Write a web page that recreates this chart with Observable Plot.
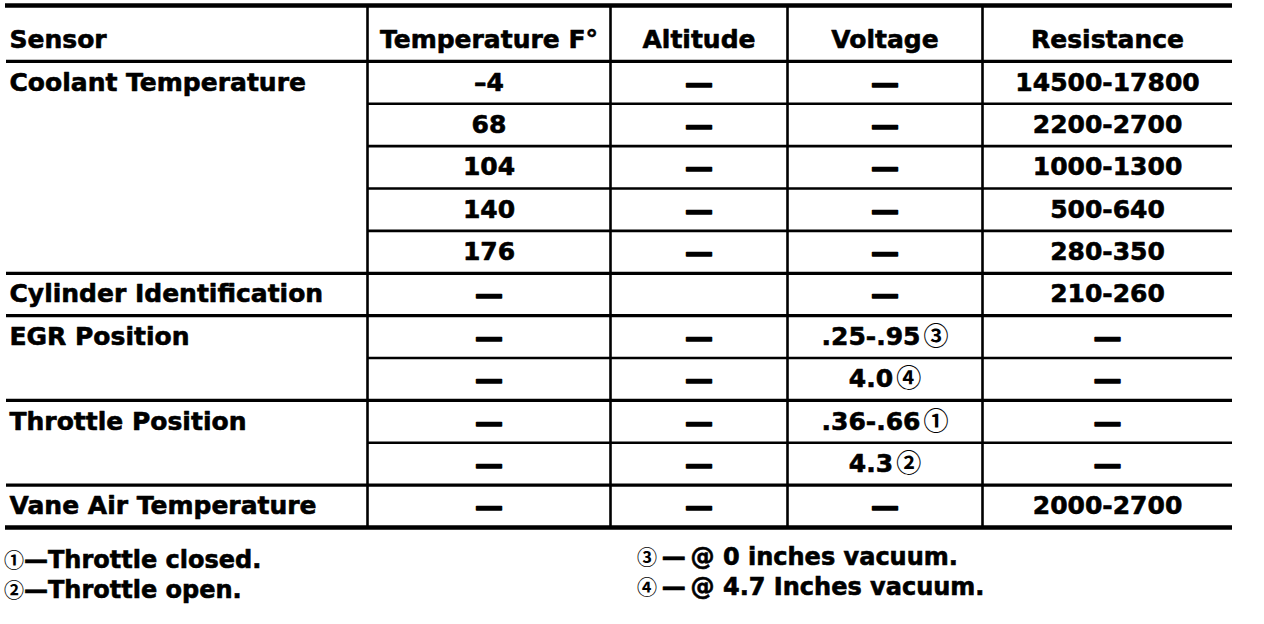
<!DOCTYPE html>
<html>
<head>
<meta charset="utf-8">
<script src="https://cdn.jsdelivr.net/npm/d3@7"></script>
<script src="https://cdn.jsdelivr.net/npm/@observablehq/plot@0.6"></script>
<style>
  body { margin: 0; background: #fff; }
  #notes { display: flex; font-family: "DejaVu Sans", sans-serif; font-weight: bold; font-size: 24px;
           line-height: 30px; color: #000; -webkit-text-stroke: 0.6px #000; margin-top: 5px; }
  #notes .left { width: 633px; padding-left: 4px; }
  #notes .right { margin-top: -3px; }
  #notes > div > div { height: 30px; }
  .circ { font-family: "Noto Sans CJK JP", sans-serif; font-weight: bold; -webkit-text-stroke: 0; font-size: 20px; }
</style>
</head>
<body>
<div id="table"></div>
<div id="notes"><div class="left"></div><div class="right"></div></div>
<script>
// datos de la tabla (una fila por linea de la tabla)
const columnas = ["Sensor", "Temperature F°", "Altitude", "Voltage", "Resistance"];
const sensores = ["Coolant Temperature", "Cylinder Identification", "EGR Position", "Throttle Position", "Vane Air Temperature"];
const filasPorSensor = [5, 1, 2, 2, 1];
const temperatura = ["–4", "68", "104", "140", "176", "—", "—", "—", "—", "—", "—"];
const altitud = ["—", "—", "—", "—", "—", "", "—", "—", "—", "—", "—"];
const voltaje = ["—", "—", "—", "—", "—", "—", ".25-.95③", "4.0④", ".36-.66①", "4.3②", "—"];
const resistencia = ["14500-17800", "2200-2700", "1000-1300", "500-640", "280-350", "210-260", "—", "—", "—", "—", "2000-2700"];
const notasIzq = ["①—Throttle closed.", "②—Throttle open."];
const notasDer = ["③\u2009—\u2009@ 0 inches vacuum.", "④\u2009—\u2009@ 4.7 Inches vacuum."];

// layout
const bordes = [6, 367, 610, 787, 982, 1232]; // bordes de columnas
const alturaHeader = 1.32; // en unidades de fila
const nFilas = temperatura.length;
const fuente = "DejaVu Sans";
const circulos = /([\u2460-\u2473])/;

const valores = [temperatura, altitud, voltaje, resistencia];

// celdas de valores
const celdas = [];
valores.forEach((col, j) => {
  col.forEach((v, i) => {
    celdas.push({x: (bordes[j + 1] + bordes[j + 2]) / 2, y: i + 0.5, text: v});
  });
});

// etiquetas de sensor en la primera fila de cada grupo
const inicios = [];
let acum = 0;
sensores.forEach((s, k) => {
  inicios.push({x: bordes[0] + 3, y: acum + 0.5, text: s});
  acum += filasPorSensor[k];
});
const cortes = d3.cumsum(filasPorSensor).slice(0, -1); // limites entre grupos

// lineas horizontales
const lineasGrupo = [{y: 0}, ...Array.from(cortes, c => ({y: c}))];
const lineasInternas = d3.range(1, nFilas).filter(r => !cortes.includes(r)).map(r => ({y: r}));

const encabezados = columnas.map((c, j) => ({
  x: j === 0 ? bordes[0] + 3 : (bordes[j] + bordes[j + 1]) / 2,
  y: -alturaHeader / 2 + 0.15,
  text: c,
  anchor: j === 0 ? "start" : "middle"
}));

const txt = {fontFamily: fuente, fontWeight: "bold", fontSize: 25, fill: "black", stroke: "black", strokeWidth: 0.6, lineAnchor: "middle"};

const chart = Plot.plot({
  width: 1264,
  height: 540,
  marginTop: 5,
  marginBottom: 13,
  marginLeft: 0,
  marginRight: 0,
  style: {display: "block", background: "white"},
  x: {domain: [0, 1264], axis: null},
  y: {domain: [-alturaHeader, nFilas], reverse: true, axis: null},
  marks: [
    Plot.ruleY([-alturaHeader, nFilas], {x1: bordes[0] - 1, x2: bordes[5], strokeWidth: 4.5}),
    Plot.ruleY(lineasGrupo, {y: "y", x1: bordes[0], x2: bordes[5], strokeWidth: 3.2}),
    Plot.ruleY(lineasInternas, {y: "y", x1: bordes[1], x2: bordes[5], strokeWidth: 2.6}),
    Plot.ruleX(bordes.slice(1, 5), {y1: -alturaHeader, y2: nFilas, strokeWidth: 2.6}),
    Plot.text(encabezados.filter(d => d.anchor === "start"), {x: "x", y: "y", text: "text", textAnchor: "start", ...txt}),
    Plot.text(encabezados.filter(d => d.anchor === "middle"), {x: "x", y: "y", text: "text", textAnchor: "middle", ...txt}),
    Plot.text(inicios, {x: "x", y: "y", text: "text", textAnchor: "start", ...txt}),
    Plot.text(celdas.filter(d => d.text !== "—"), {x: "x", y: "y", text: "text", textAnchor: "middle", ...txt}),
    // las rayas del original son mas gruesas
    Plot.text(celdas.filter(d => d.text === "—"), {x: "x", y: "y", text: "text", textAnchor: "middle", ...txt, fontSize: 28, strokeWidth: 1.4, dy: 1})
  ]
});

// los numeros en circulo van con otra fuente (contorno, no relleno)
d3.select(chart).selectAll("text").each(function() {
  const t = this.textContent;
  if (!circulos.test(t)) return;
  const el = d3.select(this).text(null);
  t.split(circulos).filter(s => s).forEach(s => {
    const ts = el.append("tspan").text(s);
    if (circulos.test(s)) ts.attr("font-family", "Noto Sans CJK JP").attr("stroke-width", 0).attr("dx", 3).attr("font-size", 25);
  });
});

d3.select("#table").append(() => chart);

const partes = s => s.split(circulos).filter(p => p);
function nota(sel, datos) {
  sel.selectAll("div").data(datos).join("div")
    .selectAll("span").data(partes).join("span")
    .attr("class", d => circulos.test(d) ? "circ" : null)
    .text(d => d);
}
nota(d3.select("#notes .left"), notasIzq);
nota(d3.select("#notes .right"), notasDer);
</script>
</body>
</html>
